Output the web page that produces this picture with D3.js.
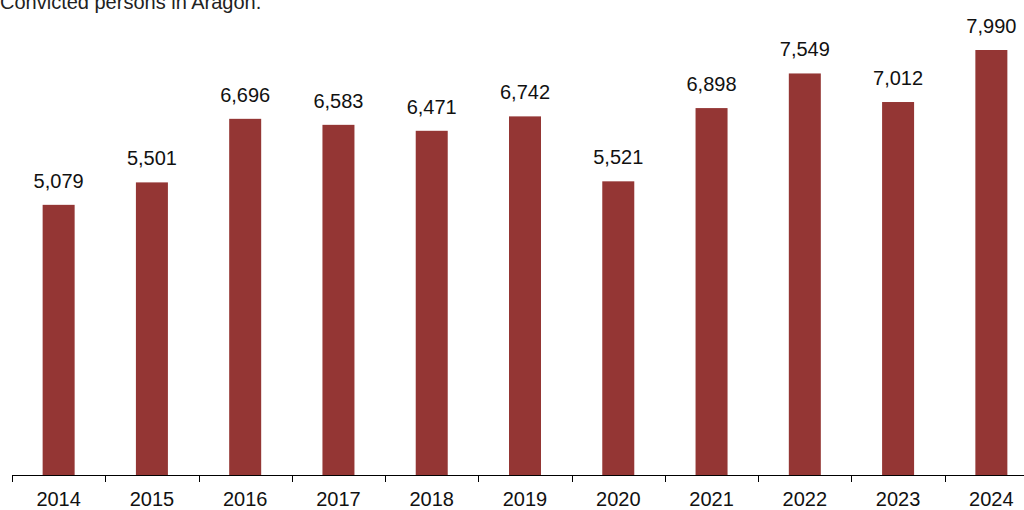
<!DOCTYPE html>
<html><head><meta charset="utf-8">
<script src="https://cdn.jsdelivr.net/npm/d3@7"></script>
<style>body{margin:0;background:#fff;}svg{display:block;font-family:"Liberation Sans",Arial,sans-serif;}</style>
</head><body>
<script>
const years = ["2014","2015","2016","2017","2018","2019","2020","2021","2022","2023","2024"];
const values = [5079,5501,6696,6583,6471,6742,5521,6898,7549,7012,7990];
const title = "Convicted persons in Aragon.";

const W = 1024, H = 510;
const svg = d3.select("body").append("svg").attr("width", W).attr("height", H);
const x = d3.scaleBand().domain(years).range([12, 1038]).paddingInner(0).paddingOuter(0);
const y = d3.scaleLinear().domain([0, 7990]).range([475, 50]);
const barW = 32;

svg.append("text").attr("x", 0).attr("y", 9).attr("font-size", 20).attr("fill", "#222").text(title);

svg.selectAll("rect.bar").data(values).join("rect")
  .attr("x", (d,i) => x(years[i]) + x.bandwidth()/2 - barW/2)
  .attr("width", barW)
  .attr("y", d => y(d))
  .attr("height", d => y(0) - y(d))
  .attr("fill", "#943634");

svg.selectAll("text.val").data(values).join("text")
  .attr("x", (d,i) => x(years[i]) + x.bandwidth()/2)
  .attr("y", d => y(d) - 17)
  .attr("text-anchor", "middle").attr("font-size", 20).attr("fill", "#111")
  .text(d => d3.format(",")(d));

// axis line
svg.append("line").attr("x1", 12).attr("x2", 1038).attr("y1", 475.5).attr("y2", 475.5).attr("stroke", "#000").attr("stroke-width", 1);
// ticks between categories
const tickPos = years.map(c => x(c)).concat([x(years[years.length-1]) + x.bandwidth()]);
svg.selectAll("line.tk").data(tickPos).join("line")
  .attr("x1", d => Math.round(d)+0.5).attr("x2", d => Math.round(d)+0.5)
  .attr("y1", 475).attr("y2", 482).attr("stroke", "#000");
svg.selectAll("text.cat").data(years).join("text")
  .attr("x", d => x(d) + x.bandwidth()/2).attr("y", 506)
  .attr("text-anchor", "middle").attr("font-size", 20).attr("fill", "#111").text(d => d);
</script>
</body></html>
